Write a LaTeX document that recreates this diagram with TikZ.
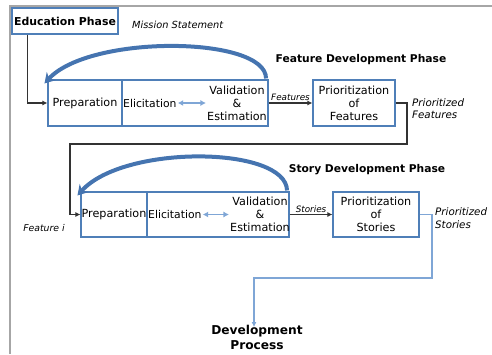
\documentclass[tikz,border=0pt]{standalone}
\usepackage{fontspec}
\setmainfont{DejaVu Sans}
\usetikzlibrary{arrows.meta}
\definecolor{boxblue}{HTML}{4F7FB8}
\definecolor{arcblue}{HTML}{4574B0}
\definecolor{lineblue}{HTML}{7FA6D6}
\definecolor{darkline}{HTML}{333333}
\begin{document}
\begin{tikzpicture}[x=1pt,y=-1pt,
  box/.style={draw=boxblue,line width=1.1pt,rectangle,inner sep=0pt,align=center,font=\fontsize{11.2}{13}\selectfont},
  txt/.style={inner sep=1pt,align=center,font=\fontsize{11.2}{13}\selectfont},
  etxt/.style={inner sep=1pt,align=center,font=\fontsize{10.8}{13}\selectfont},
  head/.style={inner sep=0pt,font=\fontsize{10.7}{13}\selectfont\bfseries},
  note/.style={inner sep=0pt,align=left,font=\fontsize{10.3}{12.5}\selectfont\itshape},
  small/.style={inner sep=1.5pt,font=\fontsize{8.8}{10}\selectfont\itshape},
  conn/.style={draw=darkline,line width=1.1pt},
  arcarrow/.style={draw=arcblue,line width=4pt,-{Stealth[length=10pt,width=12pt]}},
  dbl/.style={draw=lineblue,line width=1.1pt,{Latex[length=5.5pt,width=6pt]}-{Latex[length=5.5pt,width=6pt]}}
]
\useasboundingbox (0,0) rectangle (492,354);
\draw[gray!70,line width=1.2pt] (10,354) -- (10,6) -- (492,6);

% Education
\node[box,minimum width=106pt,minimum height=26pt,font=\fontsize{10.9}{13}\selectfont\bfseries] (edu) at (65,21) {Education Phase};
\node[note,anchor=west,font=\fontsize{9.8}{12}\selectfont\itshape] (mission) at (132,25) {Mission Statement};

% Feature development
\node[head] (fdp) at (361,60) {Feature Development Phase};
\node[box,minimum width=74pt,minimum height=46pt] (prep1) at (85,103) {Preparation};
\node[box,minimum width=146pt,minimum height=46pt] (rest1) at (195,103) {};
\node[etxt,anchor=west] (elic1) at (122,103) {Elicitation};
\node[txt] (val1) at (237,103) {Validation\\\&\\Estimation};
\draw[dbl] (elic1.east) -- (val1.west);
\node[box,minimum width=82pt,minimum height=46pt] (pf) at (354,103) {Prioritization\\of\\Features};
\node[note,anchor=west] (pfl) at (412,108.5) {Prioritized\\Features};
\draw[conn,-{Latex[length=5pt,width=5pt]}] (edu.south west) ++(16,0) |- (prep1.west);
\draw[conn,-{Latex[length=5pt,width=5pt]}] (rest1.east) -- node[small,above] {Features} (pf.west);
\draw[arcarrow] ([xshift=-2.5pt,yshift=1pt]rest1.north east) .. controls (266,36) and (90,34) .. ([shift={(-3pt,-4pt)}]prep1.north west);

% Story development
\node[head] (sdp) at (367,170) {Story Development Phase};
\node[box,minimum width=66pt,minimum height=45pt] (prep2) at (114,214.5) {Preparation};
\node[box,minimum width=142pt,minimum height=45pt] (rest2) at (218,214.5) {};
\node[etxt,anchor=west] (elic2) at (147,214.5) {Elicitation};
\node[txt] (val2) at (260,214.5) {Validation\\\&\\Estimation};
\draw[dbl] (elic2.east) -- (val2.west);
\node[box,minimum width=86pt,minimum height=45pt] (ps) at (376,214.5) {Prioritization\\of\\Stories};
\node[note,anchor=west] (psl) at (435,218) {Prioritized\\Stories};
\node[note,font=\fontsize{9.3}{12}\selectfont\itshape] (fi) at (44,228) {Feature i};
\coordinate (t1) at (407,144);
\coordinate (t2) at (70,144);
\draw[conn,-{Latex[length=5pt,width=5pt]}] (pf.east) -| (t1) -- (t2) |- (prep2.west);
\draw[conn,-{Latex[length=5pt,width=5pt]}] (rest2.east) -- node[small,above] {Stories} (ps.west);
\draw[arcarrow] ([xshift=-2.5pt,yshift=1pt]rest2.north east) .. controls (286,146) and (124,144) .. ([shift={(-3pt,-4pt)}]prep2.north west);

% Development process
\node[head,align=center,font=\fontsize{12.2}{15}\selectfont\bfseries] (dev) at (257,337.5) {Development\\Process};
\coordinate (b1) at (432,278);
\coordinate (b2) at (254,278);
\draw[draw=lineblue,line width=1.3pt,-{Latex[length=5pt,width=5pt]}] (ps.east) -| (b1) -- (b2) -- ([xshift=-3pt,yshift=-2pt]dev.north);
\end{tikzpicture}
\end{document}
